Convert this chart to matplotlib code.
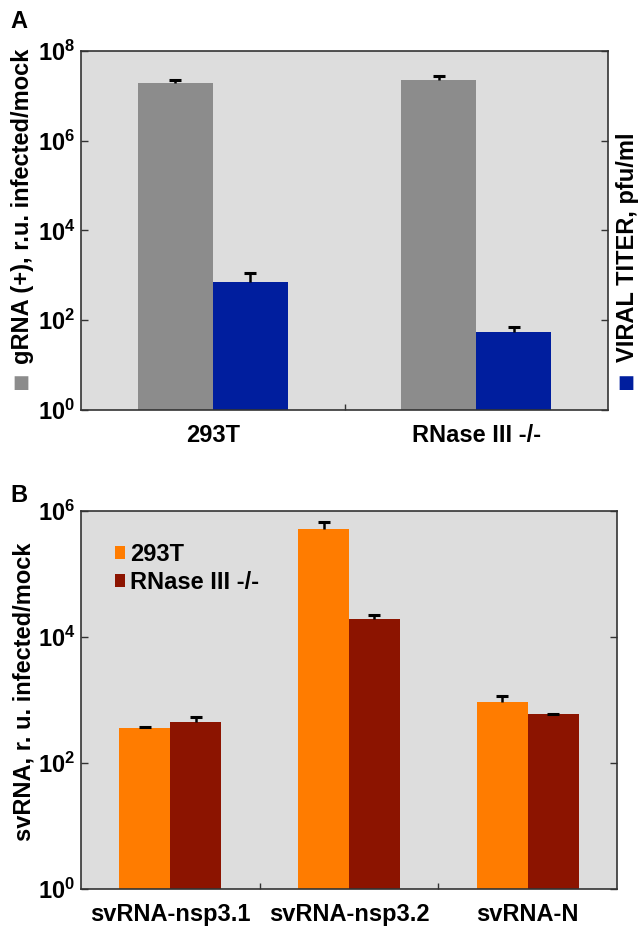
import numpy as np
import matplotlib
matplotlib.use("Agg")
import matplotlib.pyplot as plt

plt.rcParams['font.family'] = ['Liberation Sans', 'DejaVu Sans']
plt.rcParams['font.weight'] = 'bold'
plt.rcParams['mathtext.fontset'] = 'custom'
plt.rcParams['mathtext.rm'] = 'Liberation Sans:bold'
plt.rcParams['mathtext.bf'] = 'Liberation Sans:bold'
plt.rcParams['mathtext.it'] = 'Liberation Sans:bold'

# panel A data
cells_a = ['293T', 'RNase III -/-']
grna = [1.95e7, 2.3e7]
grna_err = [0.35e7, 0.45e7]
titer = [720, 54]
titer_err = [380, 15]

# panel B data
targets_b = ['svRNA-nsp3.1', 'svRNA-nsp3.2', 'svRNA-N']
series_b = ['293T', 'RNase III -/-']
wt_vals = [355, 5.2e5, 920]
wt_err = [14, 1.4e5, 240]
ko_vals = [445, 1.9e4, 593]
ko_err = [100, 0.3e4, 12]

GRAY = '#8c8c8c'
BLUE = '#001e9e'
ORANGE = '#ff7c00'
DARKRED = '#8c1400'
BG = '#dddddd'
FS = 17

fig = plt.figure(figsize=(6.38, 9.33), dpi=100)

def style_axes(ax, ymax_exp, ncat):
    ax.set_facecolor(BG)
    ax.set_yscale('log')
    ax.set_ylim(1, 10 ** ymax_exp)
    ax.set_xlim(-0.5, ncat - 0.5)
    ticks = [10 ** e for e in range(0, ymax_exp + 1, 2)]
    ax.set_yticks(ticks)
    ax.set_yticklabels([r'$\mathregular{10^{%d}}$' % e for e in range(0, ymax_exp + 1, 2)], fontsize=FS)
    ax.yaxis.set_minor_locator(matplotlib.ticker.NullLocator())
    ax.tick_params(axis='y', which='major', direction='in', length=5, width=1,
                   right=True, pad=4, color='#333333')
    ax.set_xticks(range(ncat))
    ax.tick_params(axis='x', which='major', length=0, pad=10, labelsize=FS)
    ax.set_xticks([i + 0.5 for i in range(ncat - 1)], minor=True)
    ax.tick_params(axis='x', which='minor', direction='in', length=4, width=1, color='#333333')
    for s in ax.spines.values():
        s.set_color('#333333')
        s.set_linewidth(1.2)

def upper_err(ax, xs, vals, errs):
    # one-sided error bars with a cap only on top
    _, caps, _ = ax.errorbar(xs, vals, yerr=[np.zeros(len(vals)), errs], lolims=True,
                             fmt='none', ecolor='black', elinewidth=1.8, zorder=3)
    for c in caps:
        c.set_marker('_')
        c.set_markersize(8)
        c.set_markeredgewidth(2.2)

w = 0.285

# ---- panel A
axA = fig.add_axes([0.127, 0.5606, 0.826, 0.3848])
x = np.arange(len(cells_a))
axA.bar(x - w / 2, grna, w, color=GRAY, zorder=2)
axA.bar(x + w / 2, titer, w, color=BLUE, zorder=2)
upper_err(axA, x - w / 2, grna, grna_err)
upper_err(axA, x + w / 2, titer, titer_err)
style_axes(axA, 8, 2)
axA.set_xticklabels(cells_a)

fig.text(0.036, 1 - 206 / 933, 'gRNA (+), r.u. infected/mock', rotation=90, fontsize=FS,
         ha='center', va='center')
fig.text(0.032, 1 - 383 / 933, '\u25a0', color=GRAY, fontsize=13, ha='center', va='center',
         family='DejaVu Sans')
fig.text(0.984, 1 - 247 / 933, 'VIRAL TITER, pfu/ml', rotation=90, fontsize=FS,
         ha='center', va='center')
fig.text(0.981, 1 - 383 / 933, '\u25a0', color=BLUE, fontsize=13, ha='center', va='center',
         family='DejaVu Sans')
fig.text(0.03, 1 - 22 / 933, 'A', fontsize=FS, ha='center', va='center')

# ---- panel B
axB = fig.add_axes([0.127, 0.0472, 0.840, 0.4051])
xb = np.arange(len(targets_b))
axB.bar(xb - w / 2, wt_vals, w, color=ORANGE, label=series_b[0], zorder=2)
axB.bar(xb + w / 2, ko_vals, w, color=DARKRED, label=series_b[1], zorder=2)
upper_err(axB, xb - w / 2, wt_vals, wt_err)
upper_err(axB, xb + w / 2, ko_vals, ko_err)
style_axes(axB, 6, 3)
axB.set_xticklabels(targets_b)
axB.legend(loc='upper left', bbox_to_anchor=(0.045, 0.94), frameon=False, fontsize=FS,
           handlelength=0.45, handleheight=0.45, handletextpad=0.2, labelspacing=0.2,
           borderaxespad=0)

fig.text(0.038, 1 - 692 / 933, 'svRNA, r. u. infected/mock', rotation=90, fontsize=FS,
         ha='center', va='center')
fig.text(0.03, 1 - 496 / 933, 'B', fontsize=FS, ha='center', va='center')

fig.savefig('out.png', dpi=100)
